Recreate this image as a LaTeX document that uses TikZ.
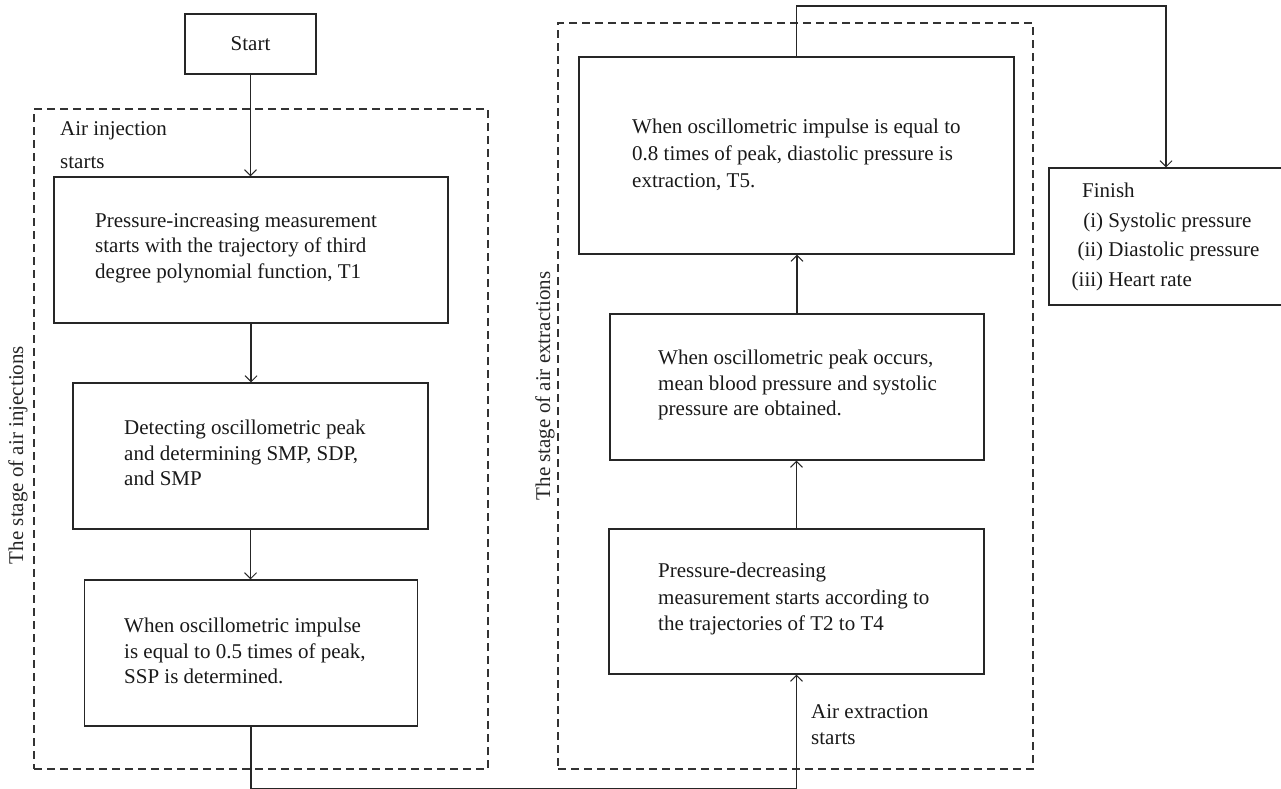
\documentclass[tikz,border=0pt]{standalone}
\usepackage{fontspec}
\setmainfont{Liberation Serif}
\usetikzlibrary{arrows.meta}
\tikzset{
  ln/.style={draw=black!85, line width=1.2pt},
  boxn/.style={ln, rectangle, inner sep=0pt},
  frame/.style={draw=black!80, line width=1.1pt, dash pattern=on 8pt off 5pt, rectangle, inner sep=0pt},
  txt/.style={anchor=west, align=left, inner sep=0pt, font=\fontsize{21}{25.5}\selectfont, text=black!90},
  arr/.style={ln, -{Straight Barb[length=6pt,width=12pt,line width=1pt]}},
  vlab/.style={rotate=90, inner sep=0pt, font=\fontsize{21}{25}\selectfont, text=black!85}
}
\begin{document}
\begin{tikzpicture}[x=1pt,y=-1pt]
\useasboundingbox (0,0) rectangle (1281,788);
% frames
\node[frame, minimum width=454, minimum height=660] (lframe) at (261,439) {};
\node[frame, minimum width=475, minimum height=746] (rframe) at (795.5,396) {};
\node[vlab] (llab) at (18,455) {The stage of air injections};
\node[vlab] (rlab) at (545,386) {The stage of air extractions};
% left column
\node[boxn, minimum width=131, minimum height=60] (start) at (250.5,44) {};
\node[txt, anchor=center] (starttxt) at (start.center) {Start};
\node[txt, font=\fontsize{21}{33}\selectfont] (airinj) at (60,145) {Air injection\\ starts};
\node[boxn, minimum width=394, minimum height=146] (b1) at (251,250) {};
\node[txt] (t1) at (95,248) {Pressure-increasing measurement\\ starts with the trajectory of third\\ degree polynomial function, T1};
\node[boxn, minimum width=355, minimum height=146] (b2) at (250.5,456) {};
\node[txt] (t2) at (124,453) {Detecting oscillometric peak\\ and determining SMP, SDP,\\ and SMP};
\node[boxn, minimum width=333, minimum height=146] (b3) at (251,653) {};
\node[txt] (t3) at (124,651) {When oscillometric impulse\\ is equal to 0.5 times of peak,\\ SSP is determined.};
% right column
\node[boxn, minimum width=435, minimum height=197] (r1) at (796.5,155.5) {};
\node[txt, font=\fontsize{21}{27}\selectfont] (tr1) at (632,155) {When oscillometric impulse is equal to\\ 0.8 times of peak, diastolic pressure is\\ extraction, T5.};
\node[boxn, minimum width=374, minimum height=146] (r2) at (797,387) {};
\node[txt] (tr2) at (658,385) {When oscillometric peak occurs,\\ mean blood pressure and systolic\\ pressure are obtained.};
\node[boxn, minimum width=375, minimum height=145] (r3) at (796.5,601.5) {};
\node[txt, font=\fontsize{21}{26.5}\selectfont] (tr3) at (658,599) {Pressure-decreasing\\ measurement starts according to\\ the trajectories of T2 to T4};
\node[txt] (airext) at (811,724.5) {Air extraction\\ starts};
% finish
\node[boxn, minimum width=234, minimum height=137] (finish) at (1166,236.5) {};
\node[txt, font=\fontsize{21}{29.5}\selectfont] (tf) at (1071,237) {\hspace*{11pt}Finish\\ \makebox[32pt][r]{(i)} Systolic pressure\\ \makebox[32pt][r]{(ii)} Diastolic pressure\\ \makebox[32pt][r]{(iii)} Heart rate};
% connectors
\coordinate (botc) at (500,788.6);
\coordinate (topc) at (1000,6);
\draw[arr] (start.south) -- (start.south |- b1.north);
\draw[arr] (b1.south) -- (b1.south |- b2.north);
\draw[arr] (b2.south) -- (b2.south |- b3.north);
\draw[arr] (b3.south) -- (b3.south |- botc) -| (r3.south);
\draw[arr] (r3.north) -- (r3.north |- r2.south);
\draw[arr] (r2.north) -- (r2.north |- r1.south);
\draw[arr] (r1.north) |- (topc) -| (finish.north);
\end{tikzpicture}
\end{document}
